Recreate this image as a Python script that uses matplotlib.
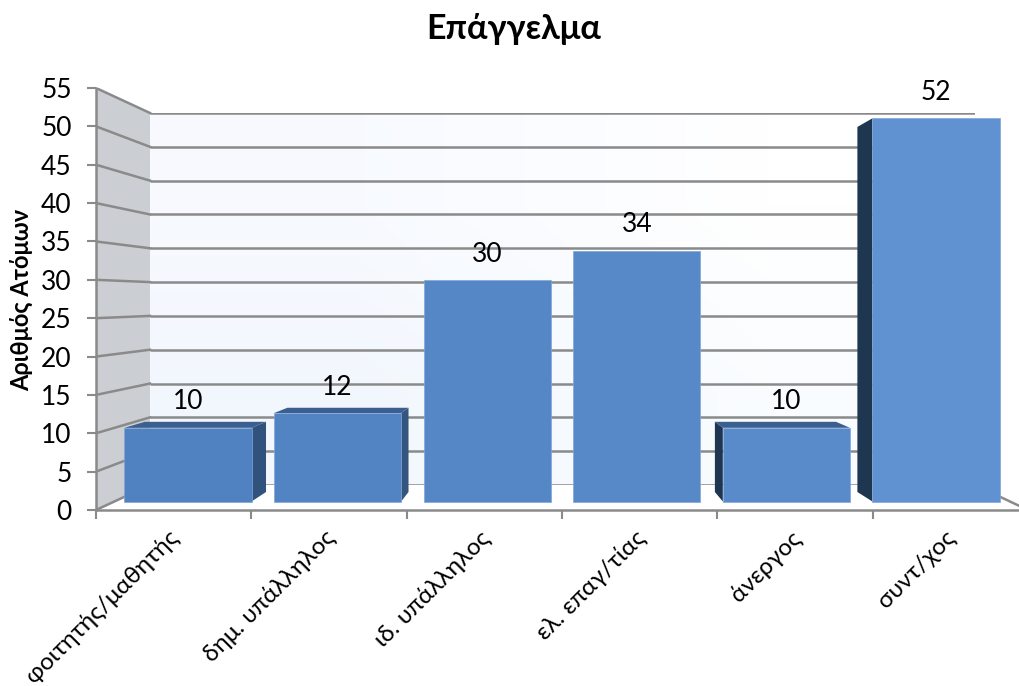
import numpy as np
import matplotlib
matplotlib.use('Agg')
import matplotlib.pyplot as plt
from matplotlib.lines import Line2D
from matplotlib.patches import Polygon
from matplotlib.transforms import IdentityTransform

W, H = 1019, 686
TITLE = 'Επάγγελμα'
Y_LABEL = 'Αριθμός Ατόμων'
CATEGORIES = ['φοιτητής/μαθητής', 'δημ. υπάλληλος', 'ιδ. υπάλληλος', 'ελ. επαγ/τίας', 'άνεργος', 'συντ/χος']
VALUES = [10, 12, 30, 34, 10, 52]
Y_TICKS = list(range(0, 60, 5))

FACE_COLORS = ['#5082C2', '#5284C4', '#5587C7', '#5789C9', '#598BCB', '#6092D1']
SIDE_COLORS = ['#31527D', '#34557F', None, None, '#1F3650', '#1F3650']
TOP_COLOR = '#3B608F'
GRID = '#8A8A8A'

plt.rcParams['font.family'] = ['Lato', 'Noto Sans', 'DejaVu Sans']


def px_axes(fig, left, right, top, bottom, zorder):
    ax = fig.add_axes([left / W, 1 - bottom / H, (right - left) / W, (bottom - top) / H], zorder=zorder)
    ax.set_xlim(0, 6)
    ax.set_ylim(0, 55)
    ax.patch.set_alpha(0)
    return ax


fig = plt.figure(figsize=(W / 100, H / 100), dpi=100)

# back wall, pale blue fading to white towards the upper right
ax_wall = px_axes(fig, 150, 975, 113, 485, 1)
ax_wall.axis('off')
gradient = np.array([[[0.95, 0.97, 0.995], [0.98, 0.99, 1.0]],
                     [[0.97, 0.98, 1.0], [1.0, 1.0, 1.0]]])
ax_wall.imshow(gradient, extent=(0, 6, 0, 55), aspect='auto', origin='lower', interpolation='bilinear')
ax_wall.hlines(Y_TICKS, 0, 6, color=GRID, lw=1.8)

# front plane holds the axes, ticks and labels
ax = px_axes(fig, 96, 1028, 88, 510, 2)
for side in ['top', 'right']:
    ax.spines[side].set_visible(False)
for side in ['left', 'bottom']:
    ax.spines[side].set_color(GRID)
    ax.spines[side].set_linewidth(1.8)
ax.set_yticks(Y_TICKS)
ax.set_xticks(range(7))
ax.set_xticklabels([])
ax.set_xticks(np.arange(6) + 0.465, CATEGORIES, minor=True, rotation=45, ha='right', rotation_mode='anchor', fontsize=17.5)
ax.tick_params(axis='x', which='minor', length=0, pad=12)
ax.tick_params(axis='y', which='major', color=GRID, width=1.5, length=6.5, labelsize=19, labelcolor='black', pad=11)
ax.tick_params(axis='x', which='major', color=GRID, width=1.5, length=6.5)
ax.set_ylabel(Y_LABEL, fontsize=17, fontweight='bold')
ax.yaxis.set_label_coords(-63 / 932, 0.4976)
fig.text(514 / W, 1 - 29 / H, TITLE, fontsize=24.5, fontweight='bold', ha='center', va='center')


def px(axes, x, y):
    return axes.transData.transform((x, y))


# side wall and its lines
wall_pts = [px(ax, 0, 55), px(ax_wall, 0, 55), px(ax_wall, 0, 0), px(ax, 0, 0)]
ax.add_patch(Polygon(wall_pts, closed=True, facecolor='#CBCED3', edgecolor='none', transform=IdentityTransform(), zorder=0.5))
for tick in Y_TICKS:
    a, b = px(ax, 0, tick), px(ax_wall, 0, tick)
    ax.add_line(Line2D([a[0], b[0]], [a[1], b[1]], color=GRID, lw=1.8, transform=IdentityTransform(), zorder=1))
a, b = px(ax, 6, 0), px(ax_wall, 6, 0)
ax.add_line(Line2D([a[0], b[0]], [a[1], b[1]], color=GRID, lw=1.8, transform=IdentityTransform(), zorder=1))

# bars: near face and far face sit on two planes
ax_far = px_axes(fig, 134.2, 989.2, 105.9, 492, 3)
ax_far.axis('off')
ax_bar = px_axes(fig, 113.2, 1010.8, 96.2, 501.5, 3)
ax_bar.axis('off')

BAR_WIDTH = 0.85
for i, (value, face, side) in enumerate(zip(VALUES, FACE_COLORS, SIDE_COLORS)):
    x0, x1 = i + 0.5 - BAR_WIDTH / 2, i + 0.5 + BAR_WIDTH / 2
    edge = x1 if i < 3 else x0
    if side:
        pts = [px(ax_bar, edge, 0), px(ax_far, edge, 0), px(ax_far, edge, value), px(ax_bar, edge, value)]
        ax_bar.add_patch(Polygon(pts, closed=True, facecolor=side, edgecolor='none', transform=IdentityTransform(), clip_on=False, zorder=2))
    if value < 30:
        pts = [px(ax_bar, x0, value), px(ax_bar, x1, value), px(ax_far, x1, value), px(ax_far, x0, value)]
        ax_bar.add_patch(Polygon(pts, closed=True, facecolor=TOP_COLOR, edgecolor='none', transform=IdentityTransform(), clip_on=False, zorder=2))
    ax_bar.bar(i + 0.5, value, BAR_WIDTH, color=face, edgecolor='#7FA6DA', linewidth=0.5, zorder=3, clip_on=False)
    ax_bar.annotate(str(value), (i + 0.5, value), xytext=(0, 26), textcoords='offset pixels', ha='center', va='center', fontsize=19, zorder=4)

fig.savefig('out.png', dpi=100)
